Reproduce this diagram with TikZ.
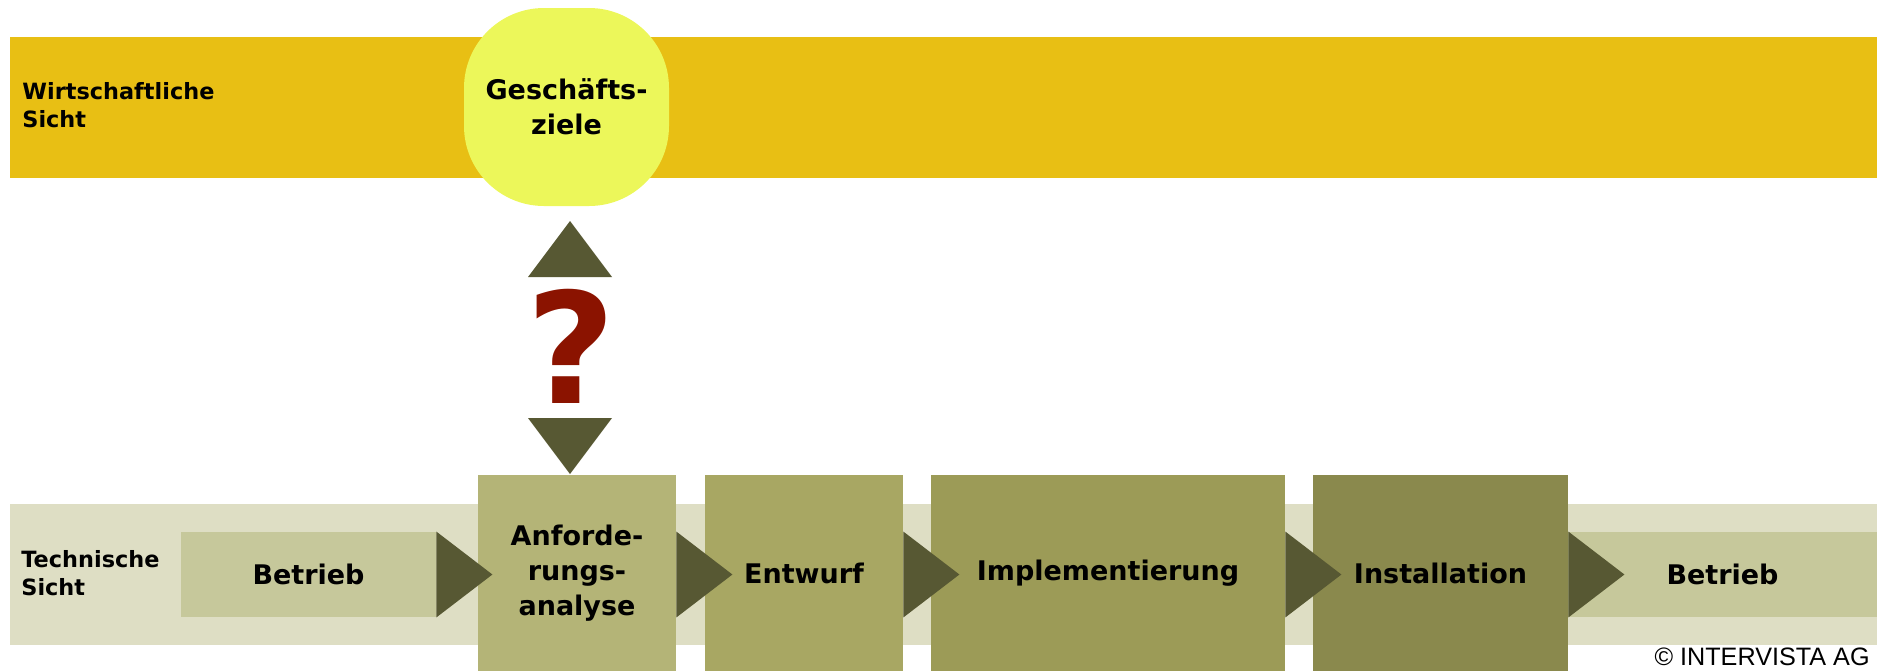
\documentclass[tikz,border=0pt]{standalone}
\usepackage{fontspec}
\setmainfont{DejaVu Sans}
\newfontfamily\copyfont{Liberation Sans}
\usepackage{xcolor}
\definecolor{gold}{RGB}{232,191,20}
\definecolor{goalfill}{RGB}{236,247,90}
\definecolor{olive}{RGB}{87,88,51}
\definecolor{askred}{RGB}{139,19,0}
\definecolor{pale}{RGB}{222,222,196}
\definecolor{ops}{RGB}{198,200,155}
\definecolor{pa}{RGB}{180,180,119}
\definecolor{pb}{RGB}{168,167,99}
\definecolor{pc}{RGB}{156,155,87}
\definecolor{pd}{RGB}{138,137,77}
\usetikzlibrary{positioning, calc}

\begin{document}
\begin{tikzpicture}[
    x=0.5pt, y=-0.5pt,
    band/.style={inner sep=0, minimum width=933.5pt, minimum height=70.5pt},
    phase/.style={inner sep=0, align=center, minimum height=98pt, font=\fontsize{13.5}{17.5}\selectfont\bfseries},
    bar/.style={phase, minimum height=42.5pt},
    side/.style={anchor=west, align=left, inner sep=0, font=\fontsize{11.2}{13.8}\selectfont\bfseries},
    tip/.style={fill=olive}
    ]
    \useasboundingbox (0,0) rectangle (1877,671);

    % wirtschaftliche Sicht
    \node[band, fill=gold] (wband) at (943.5,107.5) {};
    \node[side] (wlabel) at (22,105) {Wirtschaftliche\\Sicht};
    \node[phase, fill=goalfill, minimum width=102.5pt, minimum height=99pt, rounded corners=40pt] (goal) at (566.5,107) {Geschäfts-\\ziele};

    % technische Sicht
    \node[band, fill=pale] (tband) at (943.5,574) {};
    \node[side] (tlabel) at (21,573) {Technische\\Sicht};
    \node[bar, fill=ops, minimum width=127.5pt] (ops1) at (308.5,574.5) {Betrieb};
    \node[phase, fill=pa, minimum width=99pt] (req) at (577,573) {Anforde-\\rungs-\\analyse};
    \node[phase, fill=pb, minimum width=99pt] (design) at (804,573) {Entwurf};
    \node[phase, fill=pc, minimum width=177pt] (impl) at (1108,573) {Implementierung};
    \node[phase, fill=pd, minimum width=127.5pt] (inst) at (1440.5,573) {Installation};
    \node[bar, fill=ops, minimum width=154.5pt] (ops2) at (1722.5,574.5) {Betrieb};

    \foreach \b in {ops1, req, design, impl, inst}
        \fill[tip] (\b.east |- ops1.north) -- ($(\b.east |- ops1.east)+(56,0)$) -- (\b.east |- ops1.south) -- cycle;

    % Frage dazwischen
    \fill[tip] (570,221) -- (612,277) -- (528,277) -- cycle;
    \node[inner sep=0, anchor=base, text=askred, font=\fontsize{77}{77}\selectfont\bfseries] (ask) at (571,403) {?};
    \fill[tip] (528,418) -- (612,418) -- (570,474) -- cycle;

    \node[anchor=base east, inner sep=0, font=\copyfont\fontsize{12.6}{12.6}\selectfont] (copy) at (1870,665) {© INTERVISTA AG};
\end{tikzpicture}
\end{document}
